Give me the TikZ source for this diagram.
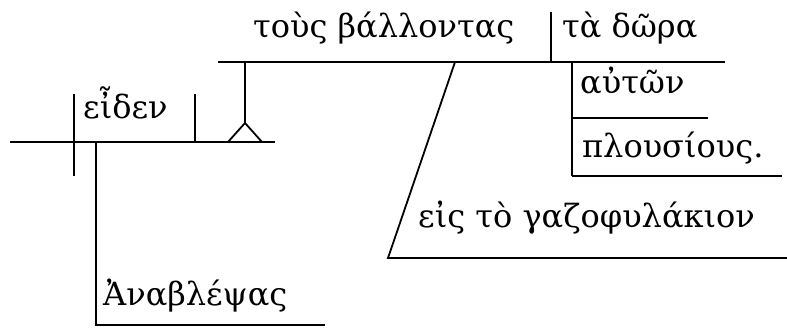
\documentclass[tikz,border=0pt]{standalone}
\usepackage{fontspec}
\setmainfont{DejaVu Serif}
\begin{document}
\begin{tikzpicture}[x=1pt,y=-1pt,
  ln/.style={line width=1.8pt, line cap=butt},
  word/.style={anchor=base west, inner sep=0pt, font=\fontsize{32}{38}\selectfont}]
\useasboundingbox (0,0) rectangle (787,333);
% texts
\node[word] (eiden) at (83,118) {εἶδεν};
\node[word] (tous) at (253,37) {τοὺς βάλλοντας};
\node[word] (dora) at (562,37) {τὰ δῶρα};
\node[word] (auton) at (580,93) {αὐτῶν};
\node[word] (plous) at (582,157) {πλουσίους.};
\node[word] (eis) at (418,227) {εἰς τὸ γαζοφυλάκιον};
\node[word] (anab) at (103,305) {Ἀναβλέψας};
% main line
\coordinate (m0) at (10,142);
\coordinate (m1) at (275,142);
\draw[ln] (m0) -- (m1);
\draw[ln] (74,94) -- (74,176);
\draw[ln] (195,94) -- (195,142);
% participle
\coordinate (p0) at (96,142);
\coordinate (p1) at (96,325);
\coordinate (p2) at (325,325);
\draw[ln] (p0) -- (p1) -- (p2);
% pedestal
\coordinate (t0) at (228,142);
\coordinate (t1) at (245,123);
\coordinate (t2) at (262,142);
\draw[ln] (t0) -- (t1) -- (t2);
\coordinate (u0) at (218,62);
\coordinate (u1) at (725,62);
\draw[ln] (t1) -- (245,62);
\draw[ln] (u0) -- (u1);
\draw[ln] (551,12) -- (551,62);
% modifiers of object
\draw[ln] (572,62) -- (572,176);
\draw[ln] (572,118) -- (708,118);
\draw[ln] (572,176) -- (782,176);
% prepositional phrase
\coordinate (s0) at (455,62);
\coordinate (s1) at (388,258);
\coordinate (s2) at (787,258);
\draw[ln] (s0) -- (s1) -- (s2);
\end{tikzpicture}
\end{document}
